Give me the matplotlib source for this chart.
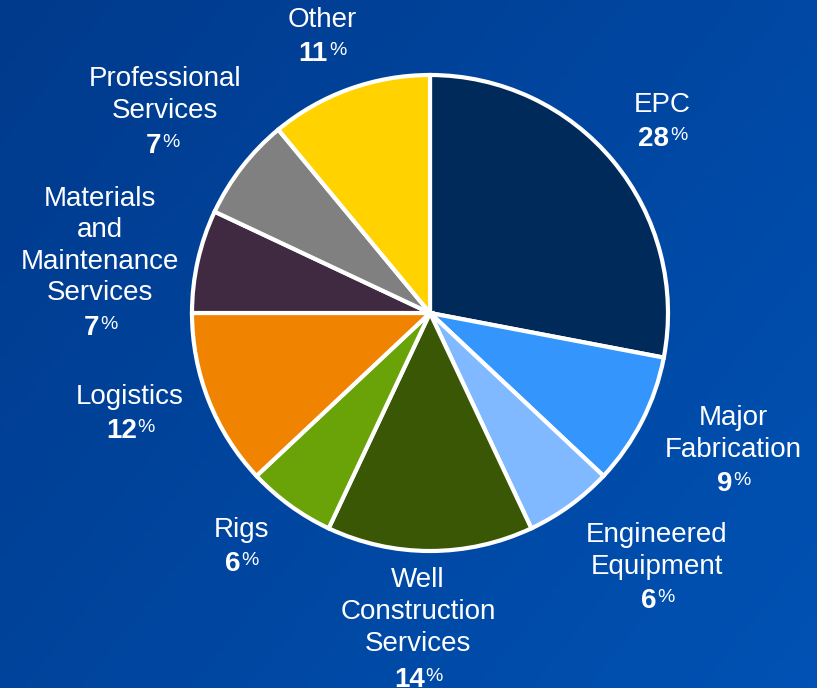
import matplotlib
matplotlib.use("Agg")
import matplotlib.pyplot as plt
import matplotlib.transforms as mtransforms
import numpy as np

plt.rcParams['font.family'] = ['Liberation Sans', 'DejaVu Sans']

# data
names = ["EPC", "Major\nFabrication", "Engineered\nEquipment", "Well\nConstruction\nServices",
         "Rigs", "Logistics", "Materials\nand\nMaintenance\nServices", "Professional\nServices", "Other"]
shares = [28, 9, 6, 14, 6, 12, 7, 7, 11]
colors = ["#002a5a", "#3496fc", "#80b9ff", "#3a5705", "#6aa308", "#f08300", "#3f2a42", "#808080", "#ffd200"]

# label layout in pixels (name block centre, percent baseline)
W, H = 817, 688
cx, cy, R = 430, 313, 238
name_pos = [(662, 105), (733, 434), (657, 551), (418, 612), (241, 530),
            (130, 397), (100, 246), (165, 95), (322, 20)]
pct_pos = [(662, 146), (733, 491), (657, 608), (418, 687), (241, 571),
           (130, 438), (100, 335), (162, 153), (322, 61)]

fig = plt.figure(figsize=(W/100, H/100), dpi=100)

# background gradient
bg = fig.add_axes([0, 0, 1, 1])
gx, gy = np.meshgrid(np.linspace(0, 1, 200), np.linspace(0, 1, 200))
t = (gx*0.6 + gy*0.4)
c0 = np.array([0x00, 0x3a, 0x8c])/255.
c1 = np.array([0x00, 0x52, 0xb4])/255.
img = c0[None, None, :]*(1-t[..., None]) + c1[None, None, :]*t[..., None]
bg.imshow(img, aspect='auto', extent=[0, 1, 0, 1])
bg.axis('off')

ax = fig.add_axes([0, 0, 1, 1])
ax.patch.set_alpha(0)
ax.pie(shares, colors=colors, startangle=90, counterclock=False, radius=1,
       wedgeprops=dict(edgecolor='white', linewidth=3))
ax.set_aspect('auto')
ax.set_xlim((0-cx)/R, (W-cx)/R)
ax.set_ylim((cy-H)/R, cy/R)
ax.axis('off')

def to_data(px, py):
    return (px-cx)/R, (cy-py)/R

renderer = fig.canvas.get_renderer()
for name, val, npos, ppos in zip(names, shares, name_pos, pct_pos):
    x, y = to_data(*npos)
    ax.text(x, y, name, ha='center', va='center', fontsize=20, color='white', linespacing=1.28)
    x, y = to_data(*ppos)
    num = ax.text(x, y, str(val), ha='center', va='baseline', fontsize=20,
                  fontweight='bold', color='white')
    pc = ax.text(x, y, "%", ha='left', va='baseline', fontsize=14, color='white')
    wn = num.get_window_extent(renderer).width
    wp = pc.get_window_extent(renderer).width
    shift = -wp / 2.0
    num.set_transform(ax.transData + mtransforms.Affine2D().translate(shift, 0))
    pc.set_transform(ax.transData + mtransforms.Affine2D().translate(shift + wn/2 + 1, 6))

fig.savefig("out.png", dpi=100)
